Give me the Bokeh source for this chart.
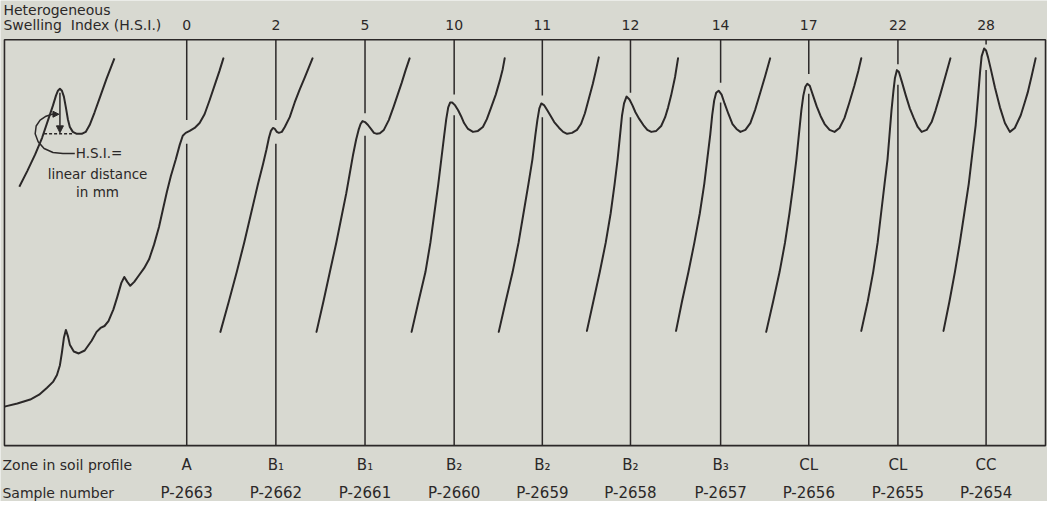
from bokeh.plotting import figure
from bokeh.models import Range1d, Arrow, NormalHead
from bokeh.core.properties import value
from bokeh.embed import file_html
from bokeh.resources import INLINE

# ---------------- data (chart units) ----------------
hsi_values = [0, 2, 5, 10, 11, 12, 14, 17, 22, 28]
zones = ["A", "B\u2081", "B\u2081", "B\u2082", "B\u2082", "B\u2082", "B\u2083", "CL", "CL", "CC"]
samples = ["P-2663", "P-2662", "P-2661", "P-2660", "P-2659", "P-2658", "P-2657", "P-2656", "P-2655", "P-2654"]

# position of each sample's H.S.I. marker line on the chart
marker_x = [191, 281, 371, 461, 550, 639, 730, 819, 909, 998]
# each marker line is interrupted where the trace passes: end of upper piece / start of lower piece
marker_gap_top = [125, 125, 118, 99, 100, 97, 87, 78, 68, 48]
marker_gap_bottom = [149, 149, 141, 120, 122, 122, 107, 98, 89, 74]

# chart frame
frame_left, frame_right, frame_top, frame_bottom = 7, 1058, 43, 457

# traces (x, y) per sample
p2663_x = [8, 20, 33, 42, 50, 56, 60, 63, 65, 67, 69, 71, 73, 77, 82, 88, 95, 100, 104, 108, 112, 117, 121, 125,
           128, 131, 134, 138, 143, 148, 153, 158, 163, 167, 171, 175, 180, 184, 187, 190, 194, 199, 204, 209,
           214, 220, 224, 228]
p2663_y = [417, 414, 410, 405, 398, 392, 385, 375, 362, 347, 339, 345, 354, 361, 363, 360, 350, 341, 337, 335,
           330, 318, 305, 291, 285, 290, 294, 290, 283, 276, 267, 252, 234, 216, 198, 182, 165, 150, 141, 138,
           136, 133, 128, 119, 105, 87, 75, 62]

p2662_x = [225, 233.5, 241.5, 249, 256, 263, 268, 271.5, 274, 276, 278, 280, 282, 284, 287, 290, 295,
           300, 305, 310, 314, 318]
p2662_y = [341, 310, 280, 250, 220, 190, 170, 155, 143, 136, 133, 134, 137, 138, 137, 132, 122,
           107, 94, 82, 72, 62]

p2661_x = [322, 329, 335.5, 342, 348, 352, 355.5, 359, 362, 364.5, 366.5, 368.5, 371, 374, 377, 380, 383, 386,
           390, 395, 400, 404, 408, 412, 416]
p2661_y = [341, 310, 280, 250, 220, 200, 180, 160, 145, 135, 129, 126, 127, 130, 134, 138, 139, 138.5,
           135, 125, 111, 99, 87, 74, 62]

p2660_x = [418, 425, 432, 437, 441, 445, 448, 451, 453, 455, 457, 459, 462, 465, 468, 471, 475, 480,
           485, 490, 494, 498, 503, 507, 510, 512]
p2660_y = [341, 310, 280, 250, 220, 190, 165, 140, 124, 112, 107, 107, 110, 115, 121, 128, 134, 137,
           136, 132, 124, 113, 99, 85, 73, 62]

p2659_x = [506, 513, 520, 526, 531, 536, 540, 543, 545, 547, 549, 552, 555, 558, 562, 567, 571, 575, 580, 585,
           589, 593, 597, 601, 604, 607]
p2659_y = [341, 310, 280, 250, 220, 190, 165, 140, 125, 113, 108, 110, 115, 120, 127, 133, 137, 139, 138, 135,
           129, 118, 103, 88, 75, 61]

p2658_x = [595, 601.5, 608, 614, 619, 623, 626, 628.5, 630.5, 632.5, 635, 638, 641, 644, 648, 652, 656, 660,
           665, 670, 674, 677, 680, 684, 687]
p2658_y = [340, 310, 280, 250, 220, 190, 165, 140, 120, 108, 101, 104, 110, 117, 124, 130, 135, 137,
           136, 131, 122, 112, 100, 81, 62]

p2657_x = [685, 691, 697.5, 703.5, 709, 713.5, 716.5, 719.5, 721.5, 723.5, 725.5, 728, 731, 734, 738, 742,
           746, 750, 755, 760, 765, 770, 775, 780]
p2657_y = [340, 310, 280, 250, 220, 190, 165, 140, 120, 105, 97, 95, 99, 108, 119, 129,
           134, 137, 135, 128, 114, 97, 80, 62]

p2656_x = [776, 783, 789.5, 795, 799.5, 803.5, 806.5, 809, 811.5, 813.5, 815.5, 817.5, 820, 823, 827, 831,
           835, 840, 845, 850, 855, 860, 865, 869, 872]
p2656_y = [341, 310, 280, 250, 220, 190, 165, 140, 115, 100, 91, 88, 90, 99, 111, 121,
           129, 135, 137, 133, 123, 107, 90, 75, 62]

p2655_x = [872, 878.5, 884, 888.5, 892, 895.5, 898.5, 900.5, 902.5, 904.5, 906, 908, 910, 913, 917, 921,
           925, 929, 933, 938, 943, 947, 952, 957, 962]
p2655_y = [340, 310, 280, 250, 220, 190, 165, 140, 115, 95, 82, 74, 76, 86, 100, 113,
           123, 132, 137, 135, 127, 115, 98, 80, 62]

p2654_x = [955, 961, 966.5, 971.5, 976, 980.5, 984, 987.5, 990, 992, 993.5, 996, 998, 1000, 1003, 1007,
           1012, 1017, 1022, 1027, 1033, 1037, 1040, 1044, 1048]
p2654_y = [340, 310, 280, 250, 220, 190, 160, 130, 100, 75, 60, 52, 54, 61, 74, 92,
           112, 128, 137, 133, 120, 107, 97, 80, 62]

traces_x = [p2663_x, p2662_x, p2661_x, p2660_x, p2659_x, p2658_x, p2657_x, p2656_x, p2655_x, p2654_x]
traces_y = [p2663_y, p2662_y, p2661_y, p2660_y, p2659_y, p2658_y, p2657_y, p2656_y, p2655_y, p2654_y]

# explanatory inset (definition of H.S.I.)
inset_x = [22, 30, 38, 45, 51, 56, 59, 61, 63, 65, 67, 69, 71, 73, 76, 80, 85, 89, 93, 98, 104, 110, 118]
inset_y = [193, 177, 160, 143, 125, 110, 100, 95, 93, 95, 101, 112, 124, 132, 137, 139, 139, 137, 130, 117, 100, 83, 62]
inset_base_x = [47, 76]
inset_base_y = [139, 139]
leader_x = [78, 66, 56, 47, 41, 38, 39, 43, 49, 55]
leader_y = [159, 159, 158, 154, 147, 139, 131, 125, 121, 119]

ink = "#2b2828"
bg = "#d8d9d1"
font = value("DejaVu Sans")

p = figure(width=1047, height=501, output_backend="svg", toolbar_location=None,
           x_range=Range1d(3, 1060), y_range=Range1d(514, 3), min_border=0)
p.axis.visible = False
p.grid.visible = False
p.outline_line_color = None
p.background_fill_color = bg
p.border_fill_color = bg

# frame
p.quad(left=[frame_left], right=[frame_right], top=[frame_top], bottom=[frame_bottom],
       fill_alpha=0, line_color=ink, line_width=1.6)

# marker lines with gaps
p.segment(x0=marker_x, y0=[frame_top] * len(marker_x), x1=marker_x, y1=marker_gap_top,
          line_color=ink, line_width=1.5)
p.segment(x0=marker_x, y0=marker_gap_bottom, x1=marker_x, y1=[frame_bottom] * len(marker_x),
          line_color=ink, line_width=1.5)

# traces
p.multi_line(xs=traces_x, ys=traces_y, line_color=ink, line_width=2.0, line_join="round", line_cap="round")

# inset
p.line(inset_x, inset_y, line_color=ink, line_width=2.0, line_join="round")
p.line(inset_base_x, inset_base_y, line_color=ink, line_width=1.5, line_dash="3 2")
p.line(leader_x, leader_y, line_color=ink, line_width=1.5, line_join="round")
p.add_layout(Arrow(end=NormalHead(size=7, fill_color=ink, line_color=ink), x_start=63, y_start=97,
                   x_end=63, y_end=138, line_color=ink, line_width=1.5))
p.add_layout(Arrow(end=NormalHead(size=6, fill_color=ink, line_color=ink), x_start=55, y_start=119,
                   x_end=62, y_end=119, line_color=ink, line_width=1.5))
p.text(x=[79], y=[159], text=["H.S.I.="], text_font=font, text_font_size="13.5px",
       text_align="left", text_baseline="middle", text_color=ink)
p.text(x=[101, 101], y=[180, 198], text=["linear distance", "in mm"], text_font=font, text_font_size="13.5px",
       text_align="center", text_baseline="middle", text_color=ink)

# header
p.text(x=[6], y=[13], text=["Heterogeneous"], text_font=font, text_font_size="14px",
       text_align="left", text_baseline="middle", text_color=ink)
p.text(x=[6], y=[28], text=["Swelling\u00a0\u00a0Index (H.S.I.)"], text_font=font, text_font_size="14px",
       text_align="left", text_baseline="middle", text_color=ink)
p.text(x=marker_x, y=[28] * len(marker_x), text=[str(v) for v in hsi_values], text_font=font,
       text_font_size="14px", text_align="center", text_baseline="middle", text_color=ink)

# bottom rows
p.text(x=[5], y=[477], text=["Zone in soil profile"], text_font=font, text_font_size="14px",
       text_align="left", text_baseline="middle", text_color=ink)
p.text(x=marker_x, y=[477] * len(marker_x), text=zones, text_font=font, text_font_size="15px",
       text_align="center", text_baseline="middle", text_color=ink)
p.text(x=[5], y=[505], text=["Sample number"], text_font=font, text_font_size="14px",
       text_align="left", text_baseline="middle", text_color=ink)
p.text(x=marker_x, y=[505] * len(marker_x), text=samples, text_font=font, text_font_size="15px",
       text_align="center", text_baseline="middle", text_color=ink)

open("out.html", "w").write(file_html(p, INLINE))
